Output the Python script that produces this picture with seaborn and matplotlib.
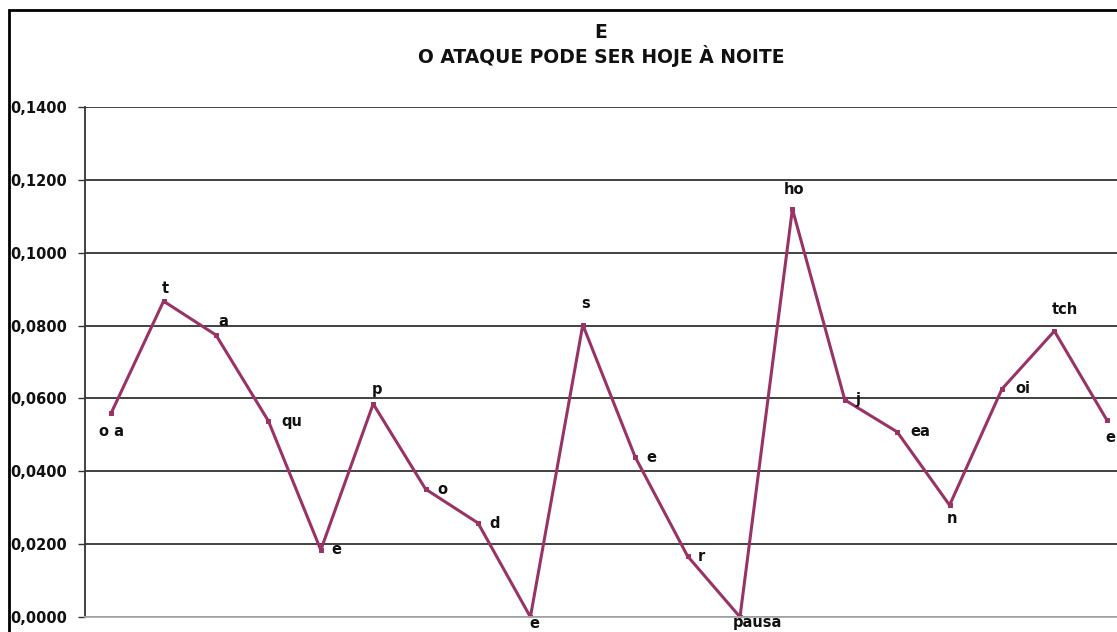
import numpy as np
import pandas as pd
import matplotlib
matplotlib.use("Agg")
import matplotlib.pyplot as plt
import seaborn as sns
from matplotlib.patches import Rectangle

# segmentos e valores
segmentos = ["o a", "t", "a", "qu", "e", "p", "o", "d", "e", "s",
             "e", "r", "pausa", "ho", "j", "ea", "n", "oi", "tch", "e"]
valores = [0.0560, 0.0867, 0.0774, 0.0538, 0.0184, 0.0585, 0.0351, 0.0258, 0.0000, 0.0802,
           0.0439, 0.0167, 0.0000, 0.1120, 0.0596, 0.0508, 0.0307, 0.0626, 0.0785, 0.0541]
yticks = [0.0, 0.02, 0.04, 0.06, 0.08, 0.10, 0.12, 0.14]

# deslocamento dos rótulos (pixels) em relação ao ponto
desloc = [(0, -19), (2, 13), (7, 14), (23, 0), (16, 0), (4, 14), (17, 0), (17, 0),
          (4, -7), (3, 21), (16, 0), (14, 0), (17, -6), (2, 19), (13, 0), (23, 0),
          (2, -13), (21, 0), (10, 22), (4, -18)]

cor = "#993366"

sns.set_style("white")
plt.rcParams["font.family"] = ["DejaVu Sans"]

fig = plt.figure(figsize=(11.17, 6.32), dpi=100)
ax = fig.add_axes([85 / 1117, 15 / 632, 1048 / 1117, 510 / 632])

data = pd.DataFrame({"pos": np.arange(len(valores)), "valor": valores})
sns.lineplot(data=data, x="pos", y="valor", ax=ax, color=cor, linewidth=2.2,
             marker="s", markersize=2.5, markeredgecolor=cor)

for i, (txt, val) in enumerate(zip(segmentos, valores)):
    dx, dy = desloc[i]
    ax.annotate(txt, (i, val), xytext=(dx * 0.72, dy * 0.72), textcoords="offset points",
                ha="center", va="center", fontsize=10.5, fontweight="bold",
                color="#111111", annotation_clip=False)

ax.set_xlim(-0.5, len(valores) - 0.5)
ax.set_ylim(0, 0.14)
ax.set_yticks(yticks)
ax.set_yticklabels([f"{v:.4f}".replace(".", ",") for v in yticks],
                   fontsize=10.5, fontweight="bold", color="#111111")
ax.set_xticks([])
ax.set_xlabel("")
ax.set_ylabel("")
ax.yaxis.grid(True, color="#333333", linewidth=1.3)
ax.set_axisbelow(True)
ax.tick_params(axis="y", direction="out", length=5, width=1, color="#333333", pad=8, left=True)
for s in ["top", "right"]:
    ax.spines[s].set_visible(False)
ax.spines["left"].set_color("#333333")
ax.spines["left"].set_linewidth(1.3)
ax.spines["bottom"].set_color("#aaaaaa")
ax.spines["bottom"].set_linewidth(1.3)

fig.text(601 / 1117, 1 - 33 / 632, "E", ha="center", va="center",
         fontsize=13.5, fontweight="bold", color="#111111")
fig.text(601 / 1117, 1 - 56 / 632, "O ATAQUE PODE SER HOJE À NOITE", ha="center",
         va="center", fontsize=13.5, fontweight="bold", color="#111111")

# moldura do gráfico
fig.patches.append(Rectangle((9 / 1117, -0.1), 1.2, 1 - 10 / 632 + 0.1,
                             transform=fig.transFigure, fill=False,
                             edgecolor="black", linewidth=2))

fig.savefig("out.png", dpi=100)
